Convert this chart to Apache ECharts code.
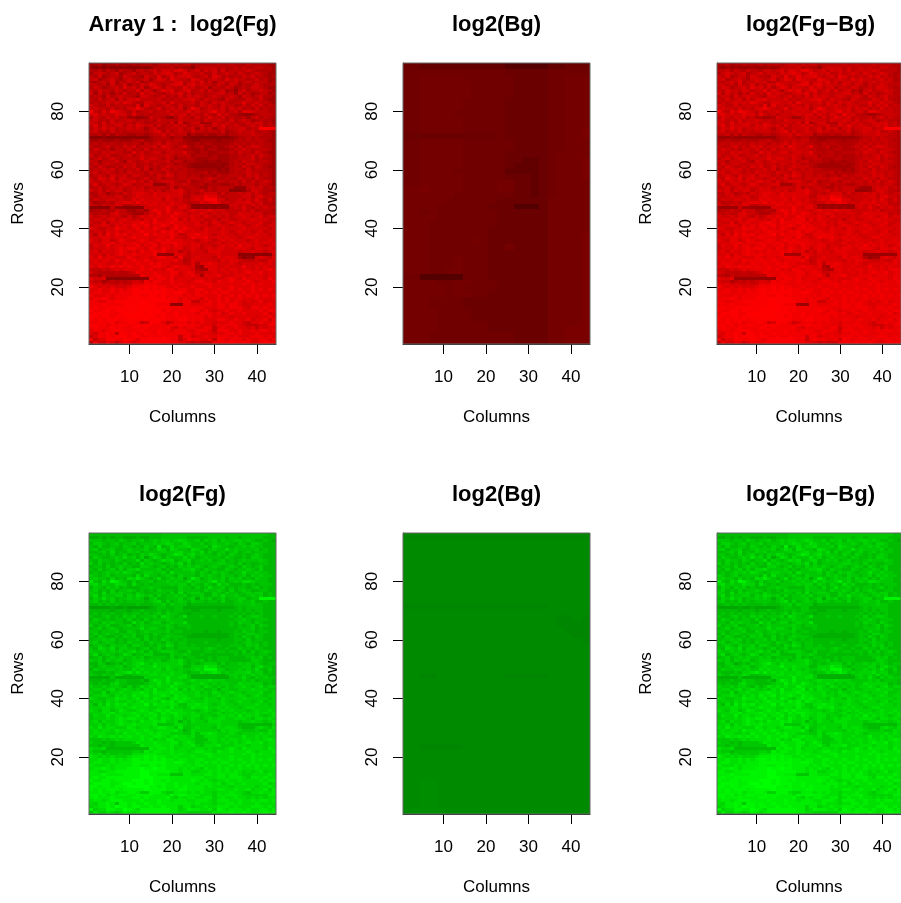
<!DOCTYPE html>
<html><head><meta charset="utf-8">
<style>html,body{margin:0;padding:0;background:#fff}#c{width:901px;height:903px}</style>
<script src="https://cdn.jsdelivr.net/npm/echarts@6/dist/echarts.min.js"></script>
</head><body><div id="c"></div>
<script>
// Levels 0-9. Each line is "row:44 columns".
const redLevels = `
96:22312232223233323443434423333343343334333322
95:10101000100010133334232203444434334343344332
94:33424324332443453554665345354535344445433332
93:24543452345344354565346544533534543543454322
92:43523442543325436346455643453653434354534323
91:45234532454345246536544365434543645443453422
90:32453624354523444443563454635245345345344423
89:44342533524354654345663564544354354243454333
88:35423453645352465354436453452443542343554322
87:43544354344635424656345634535345231453445432
86:52534243534364543345463534434455342534234423
85:34425345443255434534353545434543454254345332
84:43534525355644445343445564354432543335435322
83:34345454654335544536444453543545434464454432
82:54335344443626443454353443545435443353545343
81:45443534355754346345452475345445354534353433
80:84364765435344534454544645445745345366544433
79:56454465536434344445455354354364533211234443
78:35435453422112544311354435346445343342453433
77:45343534454343435444354444354454353454234332
76:54363545443543344435261355222543544345455342
75:46354455354654535344545344533546445434545343
74:35464534454542453344453452545245344553449988
73:45343534344443456353454354434435234544533432
72:33424243322332344535444132232233233444544332
71:00010000000000233432331100000000012334343332
70:22322232223342234343442211222212223434344322
69:34343433434424345354433223233222234343434332
68:43345343545344453654346323422322343534554332
67:35434244353435344454443322323322234454344432
66:44354544336453455345446332332233343544354322
65:53445334453454444454344423332322233434535432
64:34534543444464554354233432223322233444534332
63:44244453254345444453442332212212234354434432
62:35345434445344354344233211111121134435544332
61:43543343545335343454443211111111234354354322
60:34454534344535243543434332222212134435344332
59:45345434354443544354344333342322234345443432
58:34543544535543435465344343233243344435453432
57:43654635544345345344344444345433433544354332
56:54454545456453534555433523344244344353534542
55:46345434653445511135445433423332234344434432
54:34534545445453444435243443224344431114545343
53:54535455345554545345564344534344400013554332
52:33542343545665465555564343455535344545454344
51:43454455345655565565553355576643444455356443
50:35445545446565556465454456588855344545464353
49:42334355665756565556554344656764545556455343
48:54354465334455665656556400000000155454645433
47:00000411000005555575466410101010045464354544
46:23343354422332576575554565556555444454534443
45:43433564432224557565765455654545544655555343
44:54454554353465656557655565465454545565456455
43:45545645654546575566746465544535544555655544
42:54463556556676576667665556454654565545556445
41:45565465657667566765766556554565545654565455
40:65445576656756576546767655465546555565555545
39:45546565565676665767576565565556545655456455
38:53647576756668576667644667665456554555565545
37:55566566567666556657554576675565655456655555
36:65466457655676567676665554565456565554565565
35:55566756667666765767766565554564556565565656
34:46557566566756675665765566455456565756565456
33:45556567677665765765664565456566556665466565
32:56465567656576676755635465546665555455655456
31:55646567667666671111665455555565555000000005
30:65756655576566567766474456555465665201156546
29:56566576667667656666753465555546566544454465
28:56665565766766767665554463667655565455556565
27:65766767676676677656766562166655655575565655
26:44454565666676756577566653226656566566565676
25:54333343345766676667756764455655656567667566
24:33243333333376677667656675266675556665666566
23:65560000000000767767566656656555676576666576
22:54423434345547677667666567766576676667656667
21:65645445446667776667676666677666666676767666
20:76565655567778787766766676667666676666766666
19:66766767678878787877677667766676676766767676
18:67766767778888888877887667676767766676766666
17:76667677778877887877776767766676676767676767
16:67787677788898898877767676576676766766676666
15:77667788888899888887767744667676767656567566
14:77787777888899887771007766677677677655666676
13:78778888888899988887777777766677677765776766
12:87788788889998988787777787676566766766667677
11:78888778998998988877877776777675676676666756
10:88788788899999887877878777767666656666656676
09:87878887888889888877788777766677667667566757
08:77877867788745888645777676766566676654667667
07:88786778877888877768788777666576777654445577
06:78777877778878777786576776677467667665646566
05:67767888777787778776777667776477766766767767
04:65778748878778778777777767666566776766676666
03:46778798878877877877747756676677767666777676
02:84668877987688888887746877667487677767667767
01:37557646876788888887766545444777787787667877
`;
const greenLevels = `
96:33333333333333333444444444444444444444444433
95:22323233222322333444444333334444344344444333
94:44434435434453454554565445354535445545433432
93:35543453445344454565446544534544543543554333
92:43533443543435437346455644453654434454544333
91:45344533454445346536544365434544645444453433
90:33453634354534444544564454635345345345344433
89:44343534534354654345764564544354354343454333
88:35433454645352465354446453454443543343554333
87:43544354344635434656345634545345343454445433
86:53534343534364544345463534444455443534334433
85:34435345443355434534354545434543454354345333
84:43534535355644445343445564354433543445435333
83:34345454654345544536444453543545434464454433
82:54345344443636443454354443545435443453545443
81:45443534365754346345452475345445354534354433
80:74364875435344534454544645445745345466544433
79:56454465536434344445455354354364533343434443
78:35435453433344544333354435346445343443453433
77:45343534454343435444354444354454353454334433
76:54363545443543344435363455433543544345455343
75:46354455354654535344545344533546445434545343
74:35464534454542453344453452545345344553448888
73:45343534344443456353454354434435334544533433
72:33434343333433344535444233333333334444544333
71:11111211211111234433442222222222223434444333
70:33333233323343334343443322333323333434344333
69:34343433434434345354433233333333334343434333
68:43345343545344453654346333433433343534554333
67:35434344353435344454443333333333334454344433
66:44354544336453455345446333333333343544354333
65:53445334453454444454344433333333343434535433
64:34534543444464554354333433333333333444534333
63:44344453354345444453443333323323334354434433
62:35345434445344354344333322222222234435544333
61:43543343545335343454443222222222234354354333
60:34454534344535343543434333333323334435344333
59:45345434354443544354344333343333334345443433
58:34543544535543435465344343333343344435453433
57:43654635544345345344344444345433433544354333
56:54454545456453534555433533344344344353534543
55:46345434653445533335445433433333334344434433
54:34534545445453444435343443334344433334545343
53:54535455345554545345564344534344433333554333
52:33542343545675465555564343455535344545454344
51:43454455345655575565553355576643444455356443
50:35445545446565556465454456588855344545464353
49:43334355675756565556554344656764545556455343
48:54354465334455665656556422222222355454645433
47:22222422222225555575566422222222245464354544
46:33343354433342576575554565556555444454534443
45:43433564433334557565765455654545544655555343
44:54454554353465656557655565465454545565456455
43:45545645654546575566746465544535544555655544
42:54463556556676576667665556454654565545556445
41:45565465657667566765766556554565545654565455
40:65445576656756576546767655465546555565555545
39:45546565565676665767576565565556545655456455
38:53647576756668576667644667665456554555565545
37:55566566567666556657554576675565655456655555
36:65466457655676567676665554565456565554565565
35:55566756667666765767766565554564556565565656
34:46557566566756675665765566455456565756565456
33:45556567677665765765664565456566556665466565
32:56465567656576676755635465546665555455655456
31:55646567667666674444665455555565555333333335
30:65756655576566567766474456555465665433356546
29:56566576667667656666753465555546566544454465
28:56665565766766767665554464667655565455556565
27:65766767676676677656766564466655655575565655
26:44454565666676756577566654446656566566565676
25:54434344445766676667756764455655656567667566
24:44344344444476677667656675466675556665666566
23:65563333333333767767566656656555676576666576
22:54434444445547677667666567766576676667656667
21:65645445446667776667676666677666666676767666
20:76565655567778787766766676667666676666766666
19:66766767678878787877677667766676676766767676
18:67766767778888888877887667676767766676766666
17:76667677778877887877776767766676676767676767
16:67787677788898898877767676576676766766676666
15:77667788888899888887767755667676767656567566
14:77787777888899887774447766677677677655666676
13:78778888888899988887777777766677677765776766
12:87788788889998988787777787676566766766667677
11:78888778998998988877877776777675676676666756
10:88788788899999887877878777767666656666656676
09:87878887888889888877788777766677667667566757
08:77877867788755888655777676766566676654667667
07:88786778877888877768788777666576777655555577
06:78777877778878777786576776677567667665656566
05:67767888777787778776777667776577766766767767
04:65778748878778778777777767666566776766676666
03:56778798878877877877757756676677767666777676
02:85668877987688888887756877667587677767667767
01:47557656876788888887766555555777787787667877
`;
// Background panels are smooth: 48 lines of 22 blocks, each block 2 columns by 2 rows, top first.
const redBg = `
3322222222221111122333
4444444444443333344444
4455555444444333344555
4455555544444333344555
4455555544444333344555
4455555544444333344555
4455555444443333344555
4455555444443333344555
4455554444443333344555
4455555444443333344555
4455555444443333344555
4455555444443333344556
3333333333343333344556
4455555444444333344555
4455555444444333344555
4455555444443333345555
4455555444443322345556
4455555444443222345556
4455554444442222345556
4455555444443332345556
4455555444455332345555
5565555444455332345555
5555554444444332345555
5555544444433333355555
5555444444333111355555
5545444444433333355555
5555444444433333355555
5554444444433333355555
5554444444333333355555
5554444444333333355556
5554444454333333355556
5554444444335333355556
5554444444333333355556
5554445444333333355556
5554445444333333355556
5554455444333333355556
4411111444333333355556
5555445544433333355556
5555545444433333355556
5555545544333333355556
5554444333333333355556
5554444333333333355556
5555444433333333355556
5555444433333333355556
5555444444333333355556
5555444444333333355666
5554444444444333355666
5554444444444333355666
`;
const greenBg = `
4444444444444444444444
5555555555555555555555
5555555555555555555555
5555555555555555555555
5555555555555555555555
5555555555555555555555
5555555555555555555555
5555555555555555555555
5555555555555555555555
5555555555555555555555
5555555555555555555555
5555555555555555555555
4444444444444444455555
5555555555555555555555
5555555555555555554454
5555555555555555554444
5555555555555555555444
5555555555555555555544
5555555555555555555554
5555555555555555555555
5555555555555555555555
5555555555555555555555
5555555555555555555555
5555555555555555555555
5544555555554444455555
5555555555555555555555
5555555555555555555555
5555555555555555555555
5555555555555555555555
5555555555555555555555
5555555555555555555555
5555555555555555555555
5555555555555555555555
5555555555555555555555
5555555555555555555555
5555555555555555555555
5544444555555555555555
5555555555555555555555
5555555555555555555555
5555555555555555555555
5555555555555555555555
5555555555555555555555
5566555555555555555555
5566555555555555555555
5566555555555555555555
5566555555555555555555
5566555555555555555555
5666655555555555555555
`;
const panelTitles = ['Array 1 :  log2(Fg)','log2(Bg)','log2(Fg\u2212Bg)','log2(Fg)','log2(Bg)','log2(Fg\u2212Bg)'];
const panelLevels = [redLevels, redBg, redLevels, greenLevels, greenBg, greenLevels];
// channel and the channel value shown for levels 0..9
const panelChannels = ['r','r','r','g','g','g'];
const panelStops = [
  [140,150,165,180,195,210,225,240,250,255],
  [76,84,98,106,112,117,122,128,134,140],
  [155,165,178,190,205,218,230,242,250,255],
  [150,160,172,184,196,208,220,232,244,255],
  [118,122,126,130,134,138,142,146,150,154],
  [155,165,175,187,200,212,224,236,246,255]
];
const xLabel = 'Columns', yLabel = 'Rows';
const nCols = 44, nRows = 96;
const columns = Array.from({length:nCols},(_,i)=>String(i+1));
const rows = Array.from({length:nRows},(_,i)=>String(i+1));
const lefts = [89,403,717], tops = [63,533], W = 187, H = 281;
const font = 'Liberation Sans, Arial, Helvetica, sans-serif';
function levelAt(txt){
  const lines = txt.trim().split('\n');
  if(lines[0].includes(':')){
    const m = {};
    lines.forEach(s=>{const [k,v]=s.split(':'); m[+k]=v;});
    return (c,r)=>{const v=m[r+1]; return +v[Math.min(v.length-1,c)];};
  }
  const sy=nRows/lines.length, sx=nCols/lines[0].length;
  return (c,r)=>{const v=lines[Math.floor((nRows-1-r)/sy)]; return +v[Math.min(v.length-1,Math.floor(c/sx))];};
}
function cells(txt){
  const at = levelAt(txt), out=[];
  for(let r=0;r<nRows;r++)for(let c=0;c<nCols;c++) out.push([c,r,at(c,r)]);
  return out;
}
function drawCell(channel,stops){
  return function(params,api){
    const p=api.coord([api.value(0),api.value(1)]), s=api.size([1,1]);
    const x0=Math.round(p[0]-s[0]/2), x1=Math.round(p[0]+s[0]/2);
    const y0=Math.round(p[1]-s[1]/2), y1=Math.round(p[1]+s[1]/2);
    const k=stops[api.value(2)];
    return {type:'rect',shape:{x:x0,y:y0,width:x1-x0,height:y1-y0},
      style:{fill:channel==='r'?`rgb(${k},0,0)`:`rgb(0,${k},0)`,stroke:null}};
  };
}
const tickEvery = (i)=>(i+1)%10===0;
const tickEvery20 = (i)=>(i+1)%20===0;
const opt = {backgroundColor:'#fff',animation:false,title:[],grid:[],xAxis:[],yAxis:[],series:[]};
panelTitles.forEach((t,i)=>{
  const l = lefts[i%3], top = tops[Math.floor(i/3)];
  opt.title.push({text:t,left:l+W/2-5,top:top-54,textAlign:'center',textStyle:{fontFamily:font,fontSize:22,fontWeight:'bold',color:'#000'}});
  opt.grid.push({left:l,top:top,width:W,height:H,show:true,borderColor:'#666',borderWidth:1,backgroundColor:'transparent',z:5});
  opt.xAxis.push({type:'category',gridIndex:i,data:columns,name:xLabel,nameLocation:'middle',nameGap:65,
    nameTextStyle:{fontFamily:font,fontSize:17,color:'#000'},
    axisLine:{show:true,onZero:false,lineStyle:{color:'#222',width:1}},
    axisTick:{show:true,alignWithLabel:true,interval:tickEvery,length:10,lineStyle:{color:'#000',width:1}},
    axisLabel:{interval:tickEvery,margin:25,fontFamily:font,fontSize:17,color:'#000'},splitLine:{show:false}});
  opt.yAxis.push({type:'category',gridIndex:i,data:rows,name:yLabel,nameLocation:'middle',nameGap:62,nameRotate:90,
    nameTextStyle:{fontFamily:font,fontSize:17,color:'#000'},
    axisLine:{show:true,onZero:false,lineStyle:{color:'#222',width:1}},
    axisTick:{show:true,alignWithLabel:true,interval:tickEvery20,length:10,lineStyle:{color:'#000',width:1}},
    axisLabel:{interval:tickEvery20,rotate:90,margin:22,fontFamily:font,fontSize:17,color:'#000'},splitLine:{show:false}});
  opt.series.push({type:'custom',xAxisIndex:i,yAxisIndex:i,coordinateSystem:'cartesian2d',data:cells(panelLevels[i]),
    renderItem:drawCell(panelChannels[i],panelStops[i]),encode:{x:0,y:1},silent:true,progressive:0,animation:false,clip:true});
});
echarts.init(document.getElementById('c'),null,{renderer:'canvas'}).setOption(opt);
</script></body></html>
